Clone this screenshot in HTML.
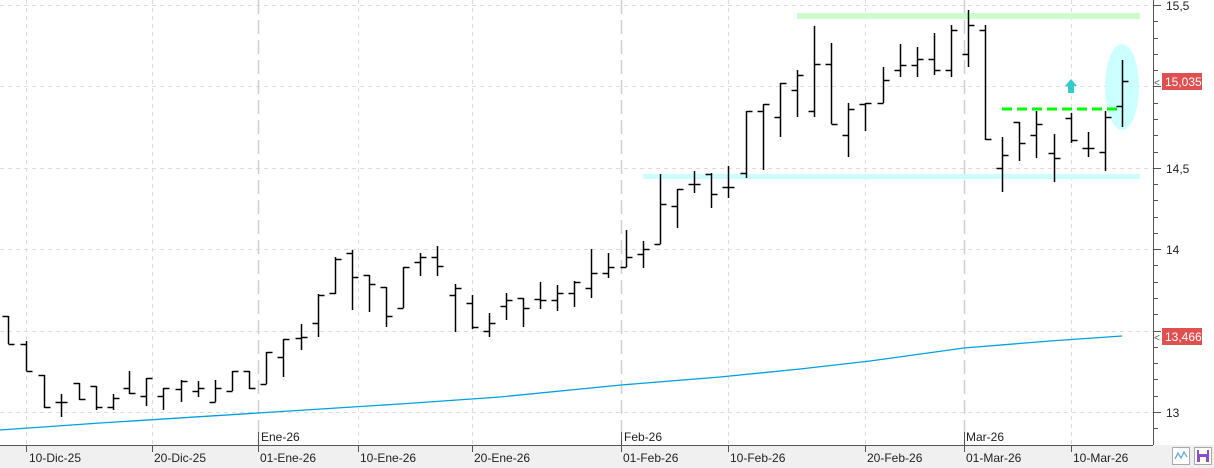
<!DOCTYPE html>
<html><head><meta charset="utf-8"><style>
html,body{margin:0;padding:0;background:#fff;}
svg{display:block;font-family:"Liberation Sans",sans-serif;}
</style></head><body>
<svg id="c" width="1214" height="468" viewBox="0 0 1214 468" xmlns="http://www.w3.org/2000/svg">
<rect x="0" y="0" width="1214" height="468" fill="#fff"/>
<g stroke="#dcdcdc" stroke-width="1" stroke-dasharray="4,4">
<line x1="0" y1="5.5" x2="1153" y2="5.5"/>
<line x1="0" y1="86.5" x2="1153" y2="86.5"/>
<line x1="0" y1="168.5" x2="1153" y2="168.5"/>
<line x1="0" y1="249.5" x2="1153" y2="249.5"/>
<line x1="0" y1="331.5" x2="1153" y2="331.5"/>
<line x1="0" y1="412.5" x2="1153" y2="412.5"/>
<line x1="26.5" y1="0" x2="26.5" y2="445"/>
<line x1="152.5" y1="0" x2="152.5" y2="445"/>
<line x1="358.5" y1="0" x2="358.5" y2="445"/>
<line x1="472.5" y1="0" x2="472.5" y2="445"/>
<line x1="728.5" y1="0" x2="728.5" y2="445"/>
<line x1="865.5" y1="0" x2="865.5" y2="445"/>
<line x1="1071.5" y1="0" x2="1071.5" y2="445"/>
</g>
<g stroke="#cfcfcf" stroke-width="1.5" stroke-dasharray="14,6">
<line x1="258.5" y1="0" x2="258.5" y2="445"/>
<line x1="621.5" y1="0" x2="621.5" y2="445"/>
<line x1="964.5" y1="0" x2="964.5" y2="445"/>
</g>
<rect x="797" y="13" width="343" height="6" fill="#ccffcc"/>
<rect x="643" y="174" width="497" height="5" fill="#ccffff"/>
<ellipse cx="1122" cy="87" rx="17" ry="43" fill="#ccffff"/>
<line x1="1002" y1="109" x2="1120" y2="109" stroke="#00ff00" stroke-width="3" stroke-dasharray="10,5"/>
<path d="M1071 79 L1077 86 L1074 86 L1074 93 L1068 93 L1068 86 L1065 86 Z" fill="#33cccc"/>
<polyline fill="none" stroke="#00a0e0" stroke-width="1.3" points="0,430 100,423 258,413 400,404 500,397 621,385 720,377 800,369 870,361 964,348 1050,341 1122,336"/>
<g id="bars" stroke="#000" stroke-width="1.5" fill="none"></g>
<rect x="0" y="445" width="1214" height="23" fill="#f0f0f0"/>
<rect x="1153" y="0" width="61" height="445" fill="#fff"/>
<line x1="0" y1="445.5" x2="1153" y2="445.5" stroke="#555"/>
<line x1="1153.5" y1="0" x2="1153.5" y2="445" stroke="#555"/>
<g id="ticks" stroke="#555"></g>
<g font-size="12" fill="#222">
<text x="1166" y="10">15,5</text>
<text x="1166" y="173">14,5</text>
<text x="1166" y="254">14</text>
<text x="1166" y="417">13</text>
</g>
<rect x="1162" y="73" width="40" height="17" fill="#e05050"/>
<text x="1165" y="86" font-size="12" fill="#fff">15,035</text>
<rect x="1162" y="328" width="40" height="17" fill="#e05050"/>
<text x="1165" y="341" font-size="12" fill="#fff">13,466</text>
<text x="1154" y="86" font-size="10" fill="#555">&lt;</text>
<text x="1154" y="341" font-size="10" fill="#555">&lt;</text>
<g stroke="#555">
<line x1="26.5" y1="445" x2="26.5" y2="452"/><line x1="152.5" y1="445" x2="152.5" y2="452"/>
<line x1="258.5" y1="432" x2="258.5" y2="452"/><line x1="358.5" y1="445" x2="358.5" y2="452"/>
<line x1="472.5" y1="445" x2="472.5" y2="452"/><line x1="621.5" y1="432" x2="621.5" y2="452"/>
<line x1="728.5" y1="445" x2="728.5" y2="452"/><line x1="865.5" y1="445" x2="865.5" y2="452"/>
<line x1="964.5" y1="432" x2="964.5" y2="452"/><line x1="1071.5" y1="445" x2="1071.5" y2="452"/>
</g>
<g font-size="12" fill="#222">
<text x="261" y="441">Ene-26</text>
<text x="624" y="441">Feb-26</text>
<text x="966" y="441">Mar-26</text>
<text x="29" y="462">10-Dic-25</text>
<text x="154" y="462">20-Dic-25</text>
<text x="260" y="462">01-Ene-26</text>
<text x="360" y="462">10-Ene-26</text>
<text x="474" y="462">20-Ene-26</text>
<text x="623" y="462">01-Feb-26</text>
<text x="730" y="462">10-Feb-26</text>
<text x="867" y="462">20-Feb-26</text>
<text x="966" y="462">01-Mar-26</text>
<text x="1073" y="462">10-Mar-26</text>
</g>
<rect x="1172.5" y="447.5" width="17" height="17" fill="#fff" stroke="#aaa"/>
<polyline points="1175,459 1178,453 1181,458 1184,452 1187,457" fill="none" stroke="#5aa0e0" stroke-width="1.2"/>
<rect x="1194.5" y="447.5" width="17" height="17" fill="#fff" stroke="#aaa"/>
<rect x="1197" y="450" width="12" height="12" fill="#8a4fc8"/>
<rect x="1199" y="450" width="8" height="4" fill="#fff"/>
<rect x="1200" y="457" width="6" height="5" fill="#fff"/>
</svg>
<script>
var B=[[8,316,344,316,344],[26,341,371,344,371],[44,375,408,375,407],[61,394,417,402,402],[79,383,400,383,399],[96,386,410,386,407],[113,394,410,407,398],[129,371,394,388,393],[146,378,406,396,378],[163,388,410,396,388],[181,380,402,389,381],[198,381,397,391,388],[215,380,402,402,388],[232,371,391,391,371],[249,371,389,371,388],[266,352,384,384,352],[283,339,377,357,339],[301,324,350,338,337],[318,294,337,323,295],[335,257,294,293,259],[352,250,310,253,277],[369,275,312,275,284],[386,287,327,287,316],[403,267,308,308,267],[420,253,276,262,257],[437,246,276,257,266],[455,284,332,295,288],[472,295,329,303,327],[489,313,337,331,323],[506,293,320,306,300],[523,298,327,298,308],[540,282,309,299,300],[557,285,311,300,293],[574,281,307,293,282],[591,249,298,288,273],[608,253,278,273,267],[626,230,267,267,257],[643,241,268,254,249],[660,174,244,244,204],[677,189,228,206,189],[694,171,193,184,184],[711,173,208,174,194],[728,166,198,187,187],[746,111,178,173,111],[763,104,170,111,104],[780,83,137,117,83],[797,70,117,90,75],[814,26,117,111,64],[831,43,124,64,124],[848,103,157,135,109],[865,103,131,104,103],[883,67,103,103,80],[900,44,77,70,65],[917,47,77,65,59],[934,33,75,59,70],[951,25,77,70,30],[968,10,67,54,25],[985,25,140,30,139],[1002,137,192,168,155],[1019,122,161,122,143],[1036,111,158,135,124],[1054,134,182,153,158],[1071,113,143,118,140],[1088,132,157,148,148],[1105,111,171,152,117],[1122,60,127,106,81]];
var g=document.getElementById('bars'),s='';
B.forEach(function(b){var x=b[0]+0.5;s+='<line x1="'+x+'" y1="'+b[1]+'" x2="'+x+'" y2="'+b[2]+'"/><line x1="'+(x-6)+'" y1="'+(b[3]+.5)+'" x2="'+x+'" y2="'+(b[3]+.5)+'"/><line x1="'+x+'" y1="'+(b[4]+.5)+'" x2="'+(x+6)+'" y2="'+(b[4]+.5)+'"/>';});
g.innerHTML=s;
var t=document.getElementById('ticks'),u='';
for(var i=0;i<=27;i++){var y=Math.round(5+i*16.28)+.5;if(y>445)break;u+='<line x1="1153" y1="'+y+'" x2="'+(i%5==0?1161:1158)+'" y2="'+y+'"/>';}
t.innerHTML=u;
</script>
</body></html>
